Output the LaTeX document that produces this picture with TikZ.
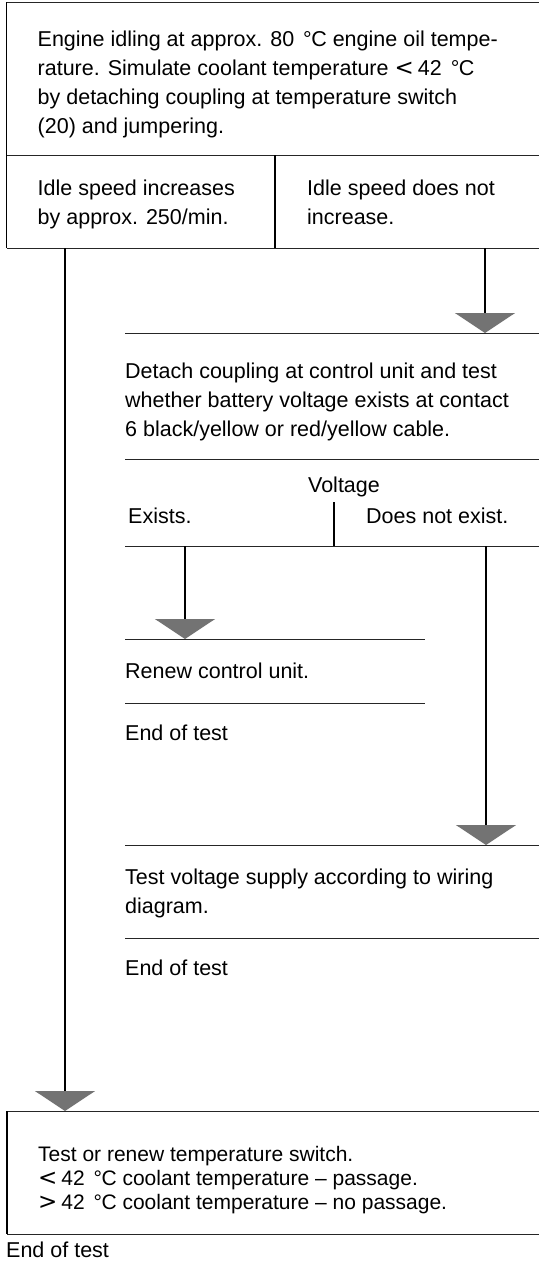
\documentclass[tikz,border=0pt]{standalone}
\usepackage{fontspec}
\setmainfont{Liberation Sans}
\newfontfamily\symfont{DejaVu Sans}
\usetikzlibrary{arrows.meta}
\newcommand{\mytab}[1]{\begin{tabular}[t]{@{}l@{}}#1\end{tabular}}
\newcommand{\degC}{\kern3pt°\kern-0.5pt C}
\newcommand{\lessth}{{\symfont\fontsize{23}{23}\selectfont <}\kern4pt}
\newcommand{\grth}{{\symfont\fontsize{23}{23}\selectfont >}\kern4pt}
\begin{document}
\begin{tikzpicture}[x=1pt,y=-1pt,
  rule/.style={line width=1pt,black!85},
  edge/.style={line width=1.5pt},
  txt/.style={anchor=base west,inner sep=0pt,font=\fontsize{21.5}{29}\selectfont},
  tiptri/.style={-{Triangle[width=60pt,length=20pt,fill=black!55,color=black!55]}},
  flow/.style={line width=1.6pt,tiptri}]
\useasboundingbox (0,0) rectangle (539,1270);

% top box
\draw[rule] (6.5,2) -- (539,2);
\draw[rule] (6.5,155) -- (539,155);
\draw[rule] (6.5,248) -- (539,248);
\draw[edge] (6.5,2) -- (6.5,248);
\draw[edge] (275,155) -- (275,248);
\node[txt] (t1) at (37.5,46.5) {\mytab{Engine idling at approx. 80 \degC\ engine oil tempe-\\rature. Simulate coolant temperature \lessth 42 \degC\\by detaching coupling at temperature switch\\(20) and jumpering.}};
\node[txt] (y1) at (37.5,195.5) {\mytab{Idle speed increases\\by approx. 250/min.}};
\node[txt] (n1) at (307,195.5) {\mytab{Idle speed does not\\increase.}};
\coordinate (yout) at (65,248);
\coordinate (nout) at (485,248);

% detach block
\draw[rule] (125,333) -- (539,333);
\coordinate (din) at (485,333);
\node[txt] (d) at (125,378.5) {\mytab{Detach coupling at control unit and test\\whether battery voltage exists at contact\\6 black/yellow or red/yellow cable.}};
\draw[rule] (125,459) -- (539,459);

% voltage split
\node[txt,anchor=base] (v) at (344,492.5) {Voltage};
\node[txt] (ex) at (128,523.5) {Exists.};
\node[txt] (nex) at (366,523.5) {Does not exist.};
\draw[rule] (125,546) -- (539,546);
\coordinate (vtop) at (334,502);
\coordinate (vbot) at (334,546);
\coordinate (exout) at (185,546);
\coordinate (nexout) at (486,546);

% renew block
\draw[rule] (125,639) -- (425,639);
\coordinate (rin) at (185,639);
\node[txt] (r) at (125,678.5) {Renew control unit.};
\draw[rule] (125,703) -- (425,703);
\node[txt] (e1) at (125,740.5) {End of test};

% test voltage block
\draw[rule] (125,845) -- (539,845);
\coordinate (tin) at (486,845);
\node[txt] (tv) at (125,884) {\mytab{Test voltage supply according to wiring\\diagram.}};
\draw[rule] (125,938) -- (539,938);
\node[txt] (e2) at (125,975.5) {End of test};

% bottom box
\draw[rule] (7,1111) -- (539,1111);
\draw[rule] (7,1234) -- (539,1234);
\draw[edge] (7,1111) -- (7,1234);
\coordinate (sin) at (65,1111);
\node[txt,font=\fontsize{21}{24}\selectfont] (s) at (38,1161.5) {\mytab{Test or renew temperature switch.\\\lessth 42 \degC\ coolant temperature -- passage.\\\grth 42 \degC\ coolant temperature -- no passage.}};
\node[txt] (e3) at (6,1257) {End of test};

% connectors
\draw[flow] (yout) -- (sin);
\draw[flow] (nout) -- (din);
\draw[edge] (vtop) -- (vbot);
\draw[flow] (exout) -- (rin);
\draw[flow] (nexout) -- (tin);
\end{tikzpicture}
\end{document}
